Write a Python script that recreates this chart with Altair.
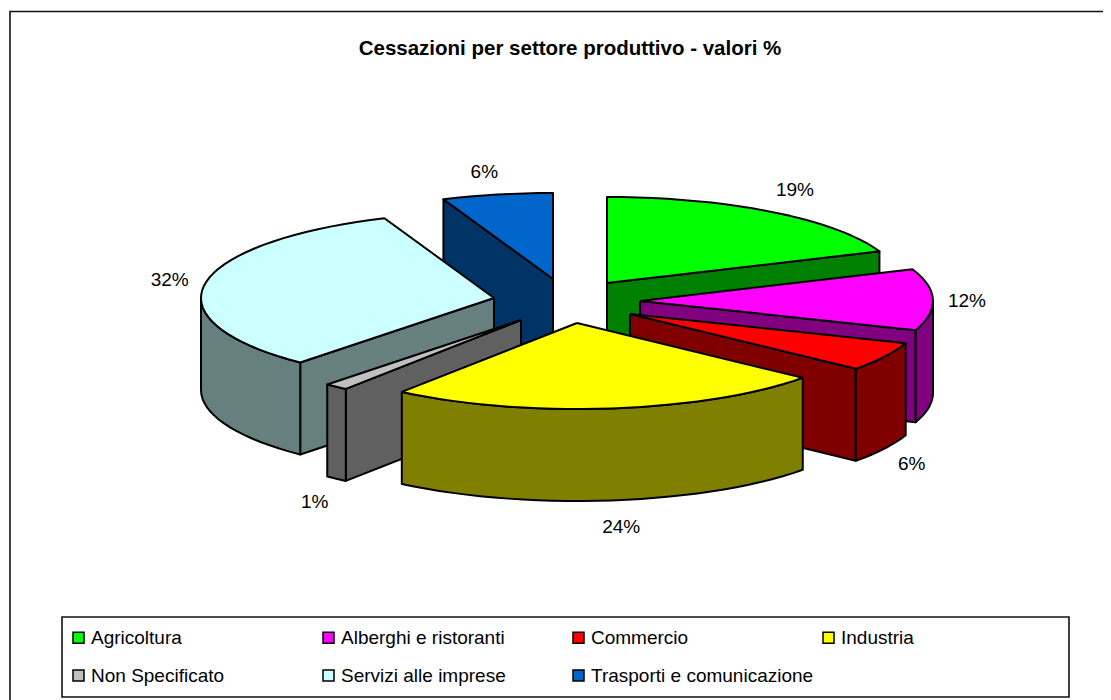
import math
import altair as alt
import pandas as pd

categories = ["Agricoltura", "Alberghi e ristoranti", "Commercio", "Industria",
              "Non Specificato", "Servizi alle imprese", "Trasporti e comunicazione"]
values = [19.0, 11.5, 5.5, 24.2, 1.3, 32.4, 6.1]
labels = ["19%", "12%", "6%", "24%", "1%", "32%", "6%"]
top_colors = ["#00FF00", "#FF00FF", "#FF0000", "#FFFF00", "#C0C0C0", "#CCFFFF", "#0066CC"]
side_colors = ["#008000", "#800080", "#800000", "#808000", "#606060", "#668080", "#003366"]
# exploded centre of every slice, in the pixel space used by both scales
centre_x = [607, 640, 630, 577, 521, 494, 553]
centre_y = [283, 301, 314, 323, 320, 298, 279]
label_nudge_x = [3, -2, -4, 5, 1, 0, -6]
label_nudge_y = [-4, -1, 0, -1, 1, -2, -1]
paint_order = [6, 0, 1, 2, 5, 4, 3]

RX, RY, DEPTH = 293, 86, 92
LABEL_RX, LABEL_RY = 36, 25

def rim(i, deg, drop=0):
    a = math.radians(deg)
    return centre_x[i] + RX * math.sin(a), centre_y[i] - RY * math.cos(a) + drop

def arc_angles(a0, a1):
    n = max(2, int((a1 - a0) / 3) + 2)
    return [a0 + (a1 - a0) * k / (n - 1) for k in range(n)]

bounds, c = [], 0.0
for v in values:
    bounds.append((c * 3.6, (c + v) * 3.6))
    c += v

rows = []
poly = 0
def add(pts, name):
    global poly
    pts = pts + [pts[0]]
    for n, (x, y) in enumerate(pts):
        rows.append({"poly": f"p{poly:02d}", "n": n, "x": x, "y": y, "name": name})
    poly += 1

for i in paint_order:
    a0, a1 = bounds[i]
    side = categories[i] + " (lato)"
    c0 = (centre_x[i], centre_y[i])
    c1 = (centre_x[i], centre_y[i] + DEPTH)
    if 180 < a0 < 360:
        add([c0, rim(i, a0), rim(i, a0, DEPTH), c1], side)
    if 0 < a1 < 180:
        add([c0, rim(i, a1), rim(i, a1, DEPTH), c1], side)
    r0, r1 = max(a0, 90), min(a1, 270)
    if r1 > r0:
        angs = arc_angles(r0, r1)
        add([rim(i, t) for t in angs] + [rim(i, t, DEPTH) for t in reversed(angs)], side)
    add([c0] + [rim(i, t) for t in arc_angles(a0, a1)], categories[i])

df = pd.DataFrame(rows)

lab_rows = []
for i, (a0, a1) in enumerate(bounds):
    m = (a0 + a1) / 2
    r = math.radians(m)
    px, py = rim(i, m, DEPTH if 90 < m < 270 else 0)
    lab_rows.append({"x": px + LABEL_RX * math.sin(r) + label_nudge_x[i],
                     "y": py - LABEL_RY * math.cos(r) + 3 + label_nudge_y[i], "t": labels[i]})
lab_df = pd.DataFrame(lab_rows)

xs = alt.Scale(domain=[8, 1103], nice=False, zero=False)
ys = alt.Scale(domain=[700, 8], nice=False, zero=False)
FONT = "Liberation Sans"

boxes = pd.DataFrame({"x": [10, 62], "x2": [1130, 1069], "y": [11.5, 617], "y2": [720, 697]})
frame = alt.Chart(boxes).mark_rect(
    fill="white", stroke="#111111", strokeWidth=1.6, clip=False
).encode(
    x=alt.X("x:Q", scale=xs, axis=None), x2="x2:Q",
    y=alt.Y("y:Q", scale=ys, axis=None), y2="y2:Q",
)

names = categories + [c + " (lato)" for c in categories]
pie = alt.Chart(df).mark_line(stroke="black", strokeWidth=2, strokeJoin="round").encode(
    x=alt.X("x:Q", scale=xs, axis=None),
    y=alt.Y("y:Q", scale=ys, axis=None),
    detail="poly:N",
    order="n:Q",
    fill=alt.Fill(
        "name:N",
        scale=alt.Scale(domain=names, range=top_colors + side_colors),
        legend=alt.Legend(
            values=categories, title=None, orient="none", legendX=61, legendY=620,
            direction="horizontal",
            columns=4, gridAlign="all", columnPadding=5, rowPadding=18, padding=0,
            symbolType="square", symbolSize=121, symbolStrokeColor="black",
            symbolStrokeWidth=1.5, labelFont=FONT, labelFontSize=19, labelColor="black",
            labelLimit=300, labelOffset=3,
        ),
    ),
)

text = alt.Chart(lab_df).mark_text(font=FONT, fontSize=19, color="black").encode(
    x=alt.X("x:Q", scale=xs, axis=None),
    y=alt.Y("y:Q", scale=ys, axis=None),
    text="t:N",
)

title_df = pd.DataFrame({"x": [570], "y": [49], "t": ["Cessazioni per settore produttivo - valori %"]})
title = alt.Chart(title_df).mark_text(font=FONT, fontSize=20.5, fontWeight="bold", color="black").encode(
    x=alt.X("x:Q", scale=xs, axis=None),
    y=alt.Y("y:Q", scale=ys, axis=None),
    text="t:N",
)

chart = alt.layer(frame, pie, text, title).properties(
    width=1095, height=692, padding=0,
    autosize=alt.AutoSizeParams(type="none"),
).configure_view(stroke=None)

chart.save("out.html", embed_options={"renderer": "svg", "actions": False})
